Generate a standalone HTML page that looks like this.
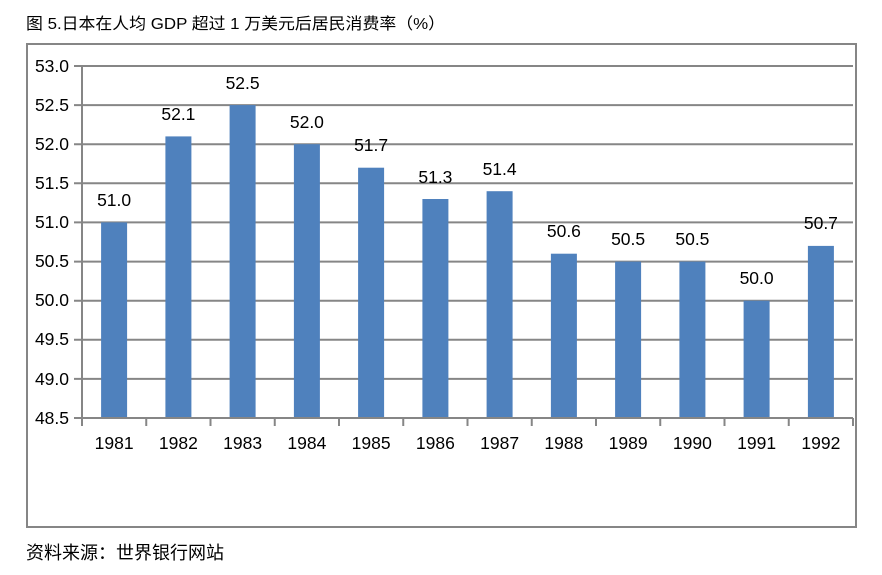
<!DOCTYPE html>
<html><head><meta charset="utf-8"><style>
body{margin:0;background:#fff;}
svg{display:block;}
text{font-family:"Liberation Sans","Noto Sans CJK SC",sans-serif;fill:#000;}
</style></head><body>
<svg width="882" height="575" viewBox="0 0 882 575" xmlns="http://www.w3.org/2000/svg">
<text x="26" y="29" font-size="16" textLength="419" lengthAdjust="spacingAndGlyphs">图 5.日本在人均 GDP 超过 1 万美元后居民消费率（%）</text>
<rect x="27" y="44" width="829" height="483" fill="none" stroke="#868686" stroke-width="2"/>
<g stroke="#868686" stroke-width="2">
<line x1="74" y1="66" x2="853" y2="66"/>
<line x1="74" y1="105.1" x2="853" y2="105.1"/>
<line x1="74" y1="144.2" x2="853" y2="144.2"/>
<line x1="74" y1="183.3" x2="853" y2="183.3"/>
<line x1="74" y1="222.4" x2="853" y2="222.4"/>
<line x1="74" y1="261.6" x2="853" y2="261.6"/>
<line x1="74" y1="300.7" x2="853" y2="300.7"/>
<line x1="74" y1="339.8" x2="853" y2="339.8"/>
<line x1="74" y1="378.9" x2="853" y2="378.9"/>
</g>
<g fill="#4f81bd">
<rect x="101.1" y="222.4" width="26" height="195.6"/>
<rect x="165.4" y="136.4" width="26" height="281.6"/>
<rect x="229.6" y="105.1" width="26" height="312.9"/>
<rect x="293.9" y="144.2" width="26" height="273.8"/>
<rect x="358.1" y="167.7" width="26" height="250.3"/>
<rect x="422.4" y="199.0" width="26" height="219"/>
<rect x="486.6" y="191.2" width="26" height="226.8"/>
<rect x="550.9" y="253.7" width="26" height="164.3"/>
<rect x="615.1" y="261.6" width="26" height="156.4"/>
<rect x="679.4" y="261.6" width="26" height="156.4"/>
<rect x="743.6" y="300.7" width="26" height="117.3"/>
<rect x="807.9" y="245.9" width="26" height="172.1"/>
</g>
<g stroke="#868686" stroke-width="2">
<line x1="82" y1="66" x2="82" y2="426"/>
<line x1="74" y1="418" x2="853" y2="418"/>
<line x1="146.25" y1="418" x2="146.25" y2="426"/>
<line x1="210.5" y1="418" x2="210.5" y2="426"/>
<line x1="274.75" y1="418" x2="274.75" y2="426"/>
<line x1="339" y1="418" x2="339" y2="426"/>
<line x1="403.25" y1="418" x2="403.25" y2="426"/>
<line x1="467.5" y1="418" x2="467.5" y2="426"/>
<line x1="531.75" y1="418" x2="531.75" y2="426"/>
<line x1="596" y1="418" x2="596" y2="426"/>
<line x1="660.25" y1="418" x2="660.25" y2="426"/>
<line x1="724.5" y1="418" x2="724.5" y2="426"/>
<line x1="788.75" y1="418" x2="788.75" y2="426"/>
<line x1="853" y1="418" x2="853" y2="426"/>
</g>
<g font-size="17.5" text-anchor="end">
<text x="69" y="72">53.0</text>
<text x="69" y="111">52.5</text>
<text x="69" y="150">52.0</text>
<text x="69" y="189">51.5</text>
<text x="69" y="228">51.0</text>
<text x="69" y="267">50.5</text>
<text x="69" y="306">50.0</text>
<text x="69" y="345">49.5</text>
<text x="69" y="385">49.0</text>
<text x="69" y="424">48.5</text>
</g>
<g font-size="17.5" text-anchor="middle">
<text x="114.1" y="449">1981</text>
<text x="178.4" y="449">1982</text>
<text x="242.6" y="449">1983</text>
<text x="306.9" y="449">1984</text>
<text x="371.1" y="449">1985</text>
<text x="435.4" y="449">1986</text>
<text x="499.6" y="449">1987</text>
<text x="563.9" y="449">1988</text>
<text x="628.1" y="449">1989</text>
<text x="692.4" y="449">1990</text>
<text x="756.6" y="449">1991</text>
<text x="820.9" y="449">1992</text>
</g>
<g font-size="17.5" text-anchor="middle">
<text x="114.1" y="206">51.0</text>
<text x="178.4" y="120">52.1</text>
<text x="242.6" y="89">52.5</text>
<text x="306.9" y="128">52.0</text>
<text x="371.1" y="151">51.7</text>
<text x="435.4" y="183">51.3</text>
<text x="499.6" y="175">51.4</text>
<text x="563.9" y="237">50.6</text>
<text x="628.1" y="245">50.5</text>
<text x="692.4" y="245">50.5</text>
<text x="756.6" y="284">50.0</text>
<text x="820.9" y="229">50.7</text>
</g>
<text x="26" y="559" font-size="18">资料来源：世界银行网站</text>
</svg>
</body></html>
